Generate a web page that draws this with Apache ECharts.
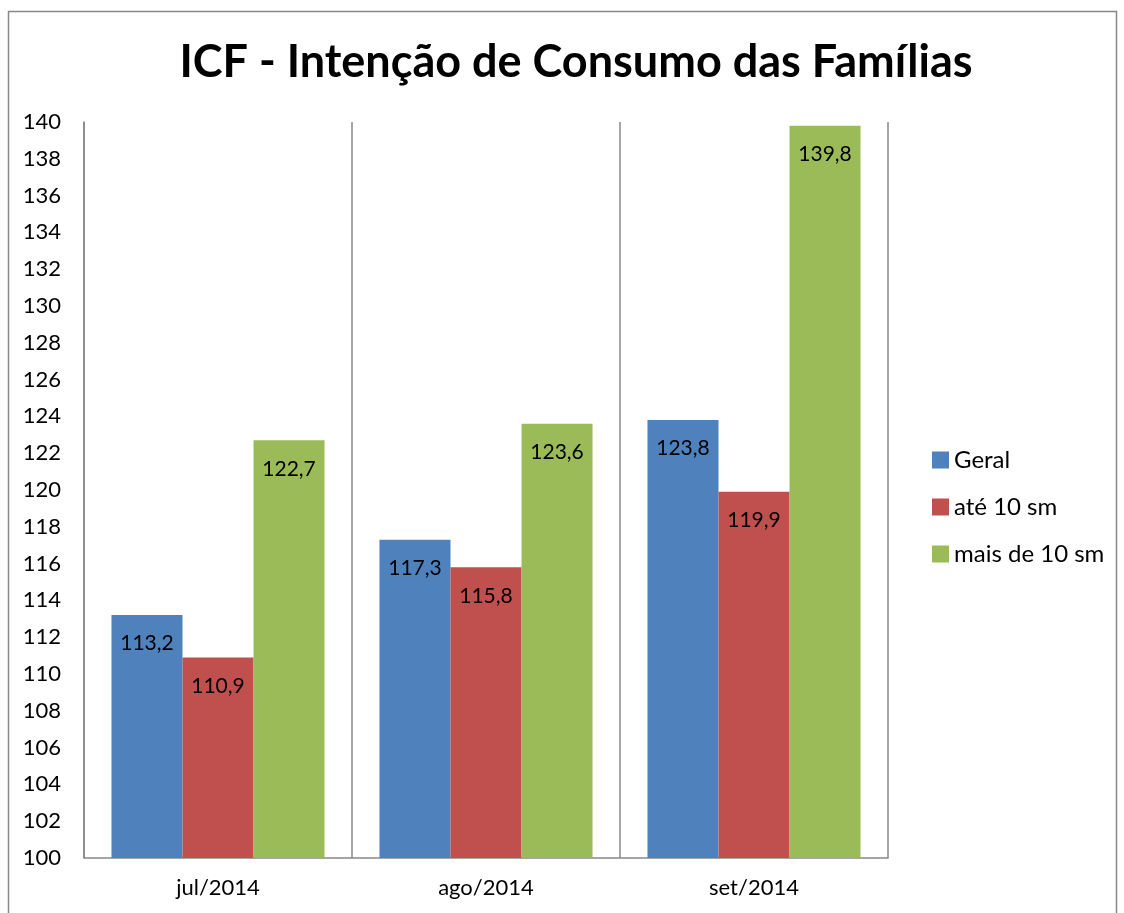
<!DOCTYPE html>
<html>
<head>
<meta charset="utf-8">
<script src="https://cdn.jsdelivr.net/npm/echarts@6/dist/echarts.min.js"></script>
<style>
  html, body { margin: 0; padding: 0; background: #fff; }
  #chart { width: 1124px; height: 913px; }
</style>
</head>
<body>
<div id="chart"></div>
<script>
// dados
var categories = ["jul/2014", "ago/2014", "set/2014"];
var geral = [113.2, 117.3, 123.8];
var ate10 = [110.9, 115.8, 119.9];
var mais10 = [122.7, 123.6, 139.8];
var seriesNames = ["Geral", "até 10 sm", "mais de 10 sm"];
var colors = ["#4F81BD", "#C0504D", "#9BBB59"];

var font = "Lato, 'Open Sans', sans-serif";

var chart = echarts.init(document.getElementById("chart"));

var label = {
  show: true,
  position: "insideTop",
  distance: 18,
  color: "#000",
  fontFamily: font,
  fontSize: 21,
  formatter: function (p) {
    return p.value.toFixed(1).replace(".", ",");
  }
};

function makeSeries(name, data, color) {
  return {
    name: name,
    type: "bar",
    data: data,
    barGap: "0%",
    barCategoryGap: "20.5%",
    itemStyle: { color: color },
    label: label
  };
}

chart.setOption({
  animation: false,
  title: {
    text: "ICF - Intenção de Consumo das Famílias",
    left: 571,
    textAlign: "center",
    top: 35,
    textStyle: {
      fontFamily: font,
      fontSize: 45,
      fontWeight: "bold",
      color: "#000"
    }
  },
  graphic: [{
    type: "rect",
    shape: { x: 8.5, y: 11.5, width: 1108, height: 930 },
    style: { fill: null, stroke: "#888", lineWidth: 1.5 },
    silent: true
  }],
  legend: {
    orient: "vertical",
    left: 927,
    top: 443,
    icon: "rect",
    itemWidth: 17,
    itemHeight: 17,
    itemGap: 23,
    textStyle: { fontFamily: font, fontSize: 24, color: "#000", lineHeight: 24 },
    data: seriesNames
  },
  grid: { left: 84, right: 236, top: 122, bottom: 55 },
  xAxis: {
    type: "category",
    data: categories,
    axisLine: { show: true, lineStyle: { color: "#888", width: 1.5 } },
    axisTick: { show: false },
    splitLine: { show: true, lineStyle: { color: "#888", width: 1.5 } },
    axisLabel: { fontFamily: font, fontSize: 22, color: "#000", margin: 19 }
  },
  yAxis: {
    type: "value",
    min: 100,
    max: 140,
    interval: 2,
    axisLine: { show: true, lineStyle: { color: "#888", width: 1.5 } },
    axisTick: { show: false },
    splitLine: { show: false },
    axisLabel: { fontFamily: font, fontSize: 22, color: "#000", margin: 23 }
  },
  series: [
    makeSeries(seriesNames[0], geral, colors[0]),
    makeSeries(seriesNames[1], ate10, colors[1]),
    makeSeries(seriesNames[2], mais10, colors[2])
  ]
});
</script>
</body>
</html>
